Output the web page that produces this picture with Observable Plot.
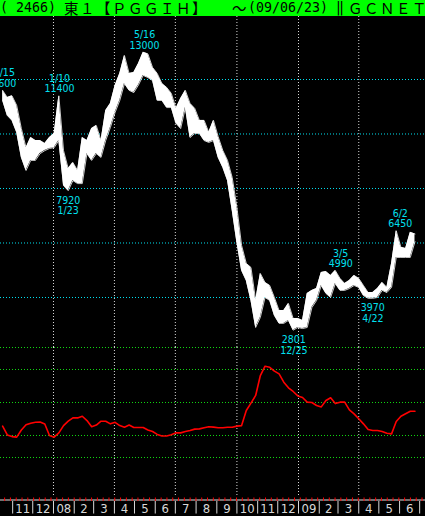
<!DOCTYPE html>
<html><head><meta charset="utf-8">
<script src="https://cdn.jsdelivr.net/npm/d3@7"></script>
<script src="https://cdn.jsdelivr.net/npm/@observablehq/plot@0.6"></script>
<style>
html,body{margin:0;padding:0;background:#000;}
#root{position:relative;width:425px;height:516px;background:#000;overflow:hidden;}
#hdr{position:absolute;left:0;top:0;width:425px;height:16px;background:#00ff00;color:#000;overflow:visible;}
#hdr span{position:absolute;top:0;line-height:16px;white-space:pre;}
.a{font-family:"DejaVu Sans Mono",monospace;font-size:13.3px;}
.j{font-family:"Noto Sans CJK JP",sans-serif;font-size:14.5px;letter-spacing:1.5px;}
#pa{position:absolute;left:0;top:16px;z-index:2;}
#pb{position:absolute;left:0;top:347px;z-index:1;}
</style>
</head><body>
<div id="root">
  <div id="hdr">
    <span class="a" style="left:0px">( 2466)</span>
    <span class="j" style="left:64px">東１【ＰＧＧＩＨ】</span>
    <span class="j" style="left:232px">～</span>
    <span class="a" style="left:248px">(09/06/23)</span>
    <span class="a" style="left:336px">‖</span>
    <span class="j" style="left:348px">ＧＣＮＥＴ</span>
  </div>
  <div id="pa"></div>
  <div id="pb"></div>
</div>
<script>
// ---- data (weekly, starting the week of 2007-10-15) ----
const firstWeek = "2007-10-17";
const weekHigh = [11600,11340,11400,11050,10200,9500,9870,9760,9760,9650,9870,10020,11400,9390,8730,8950,8660,9870,9760,10200,
  10310,9760,10860,11120,11780,12220,12880,12220,12260,12590,13000,12940,12440,12220,11850,11710,11490,10940,11300,11600,
  11120,10940,10500,10500,10060,10500,9900,9390,9030,8400,7300,5910,5250,5100,3890,4880,4550,4440,4000,3520,
  3520,3780,3230,3230,3160,4150,4260,4330,4920,4950,4810,4990,4700,4510,4620,4810,4700,4440,4180,4180,
  4330,4550,4370,5250,6450,5840,5800,6390,6330];
const weekLow = [11230,10680,10500,10060,9140,8660,9030,9030,9280,9390,9470,9500,9760,8110,7920,8290,8180,8180,9280,9030,
  9280,9140,9760,10240,10790,11230,11850,11600,11520,11800,12150,12070,11960,11230,11230,10970,10970,10390,10200,10970,
  9870,10020,10020,9760,9690,9760,9140,8770,8290,7190,6020,4990,4620,3890,2900,3270,4000,3890,3340,3050,
  3050,3160,2801,2900,2860,2900,3630,3890,4440,4150,4000,4510,4260,4260,4330,4440,4370,4070,3970,3970,
  4000,4260,4180,4370,5470,5470,5470,5470,6050];
const oscValue = [28.5,20.5,19,18.5,25,29.7,31.2,32,32.3,30.5,20,18.5,22.4,29,33,36,36,37.5,33.6,28,
  29.5,33,33,30.6,32,29,27.5,29.5,27.3,27.3,27.3,25,23.6,21,19.5,19.5,20.6,22.4,22.4,23.6,
  24.5,25.8,26,27,28,27.6,27,27,27.5,27.5,28.5,29,42.7,49.4,56.4,74.5,83,82,78.5,76,
  68.5,63.4,60,56,54.5,50.3,50,47.3,46,51.8,54.3,49,50.3,50.3,43.3,39.7,35.2,30.6,25.5,24.5,
  24.5,23.6,22,21.5,32.7,37.5,39.7,42,42];

const annDate  = ["2007-10-15","2008-01-10","2008-05-16","2009-03-05","2009-06-02","2008-01-23","2008-12-25","2009-04-22"];
const annPrice = [11600,11400,13000,4990,6450,7920,2801,3970];
const annKind  = ["high","high","high","high","high","low","low","low"];

const priceGrid = [4000,6000,8000,10000,12000];
const oscGrid = [0,20,50,80,100];
const quarterStarts = ["2008-01-01","2008-04-01","2008-07-01","2008-10-01","2009-01-01","2009-04-01"];
const monthLabels = ["11","12","08","2","3","4","5","6","7","8","9","10","11","12","09","2","3","4","5","6"];

// ---- layout / scales ----
const W = 425;
const xDomain = [new Date("2007-10-13T20:00:00Z"), new Date("2009-07-09T17:00:00Z")];
const cyan = "#00e0f0", green = "#10d810", gray = "#d8d8d8";
const font = '"Liberation Sans Narrow","DejaVu Sans Condensed","Liberation Sans",sans-serif';

const weekDates = weekHigh.map((_, i) => d3.utcDay.offset(new Date(firstWeek), 7 * i));
const priceRows = weekHigh.map((h, i) => ({date: weekDates[i], hi: h, lo: weekLow[i]}));
const oscRows = oscValue.map((v, i) => ({date: weekDates[i], v}));
const anns = annDate.map((d, i) => {
  const dt = new Date(d);
  const md = `${dt.getUTCMonth() + 1}/${dt.getUTCDate()}`;
  return {date: dt, price: annPrice[i], kind: annKind[i],
    label: annKind[i] === "high" ? `${md}\n${annPrice[i]}` : `${annPrice[i]}\n${md}`};
});
const qDates = quarterStarts.map(d => new Date(d));
const monthStarts = d3.utcMonth.range(new Date("2007-11-01"), new Date("2009-07-02"));
const monthMid = monthLabels.map((t, i) => ({
  date: new Date((+monthStarts[i] + +monthStarts[i + 1]) / 2), text: t}));
const tickStart = +new Date("2007-10-20"), tickStep = 8.66 * 864e5;
const redTicks = d3.range(0, 73).map(k => new Date(tickStart + k * tickStep));

const xOpt = {type: "utc", domain: xDomain, range: [0, W], axis: null};

const plotA = Plot.plot({
  width: W, height: 331, margin: 0,
  x: xOpt,
  y: {domain: [2165, 14312], range: [331, 0], axis: null},
  style: {background: "transparent", overflow: "visible", fontFamily: font},
  marks: [
    Plot.ruleY(priceGrid, {stroke: cyan, strokeDasharray: "1,2"}),
    Plot.ruleX(qDates, {stroke: gray, strokeDasharray: "1,2"}),
    Plot.areaY(priceRows, {x: "date", y1: "lo", y2: "hi", fill: "white", curve: "linear"}),
    Plot.line(priceRows, {x: "date", y: "hi", stroke: "white", strokeWidth: 0.8}),
    Plot.line(priceRows, {x: "date", y: "lo", stroke: "white", strokeWidth: 0.8}),
    Plot.text(anns.filter(d => d.kind === "high"), {x: "date", y: "price", text: "label",
      lineAnchor: "bottom", dy: -3.5, fill: cyan, fontSize: 10.5, lineHeight: 1}),
    Plot.text(anns.filter(d => d.kind === "low"), {x: "date", y: "price", text: "label",
      lineAnchor: "top", dy: 5.5, fill: cyan, fontSize: 10.5, lineHeight: 1})
  ]
});
document.getElementById("pa").append(plotA);

const plotB = Plot.plot({
  width: W, height: 169, margin: 0,
  x: xOpt,
  y: {domain: [-53.64, 100], range: [169, 0], axis: null},
  style: {background: "transparent", overflow: "visible", fontFamily: font},
  marks: [
    Plot.ruleY(oscGrid, {stroke: green, strokeDasharray: "1,2"}),
    Plot.ruleX(qDates, {y1: 100, y2: -36.4, stroke: gray, strokeDasharray: "1,2"}),
    Plot.ruleY([-38.64], {stroke: "#e0e0e0"}),
    Plot.ruleX(redTicks, {y1: -36.8, y2: -40, stroke: "#ff0000"}),
    Plot.ruleX(monthStarts, {y1: -40, y2: -51.4, stroke: gray}),
    Plot.text(monthMid, {x: "date", y: -50.9, text: "text", lineAnchor: "bottom",
      fill: gray, fontSize: 13}),
    Plot.line(oscRows, {x: "date", y: "v", stroke: "#ff0000", strokeWidth: 1.6})
  ]
});
document.getElementById("pb").append(plotB);
</script>
</body></html>
